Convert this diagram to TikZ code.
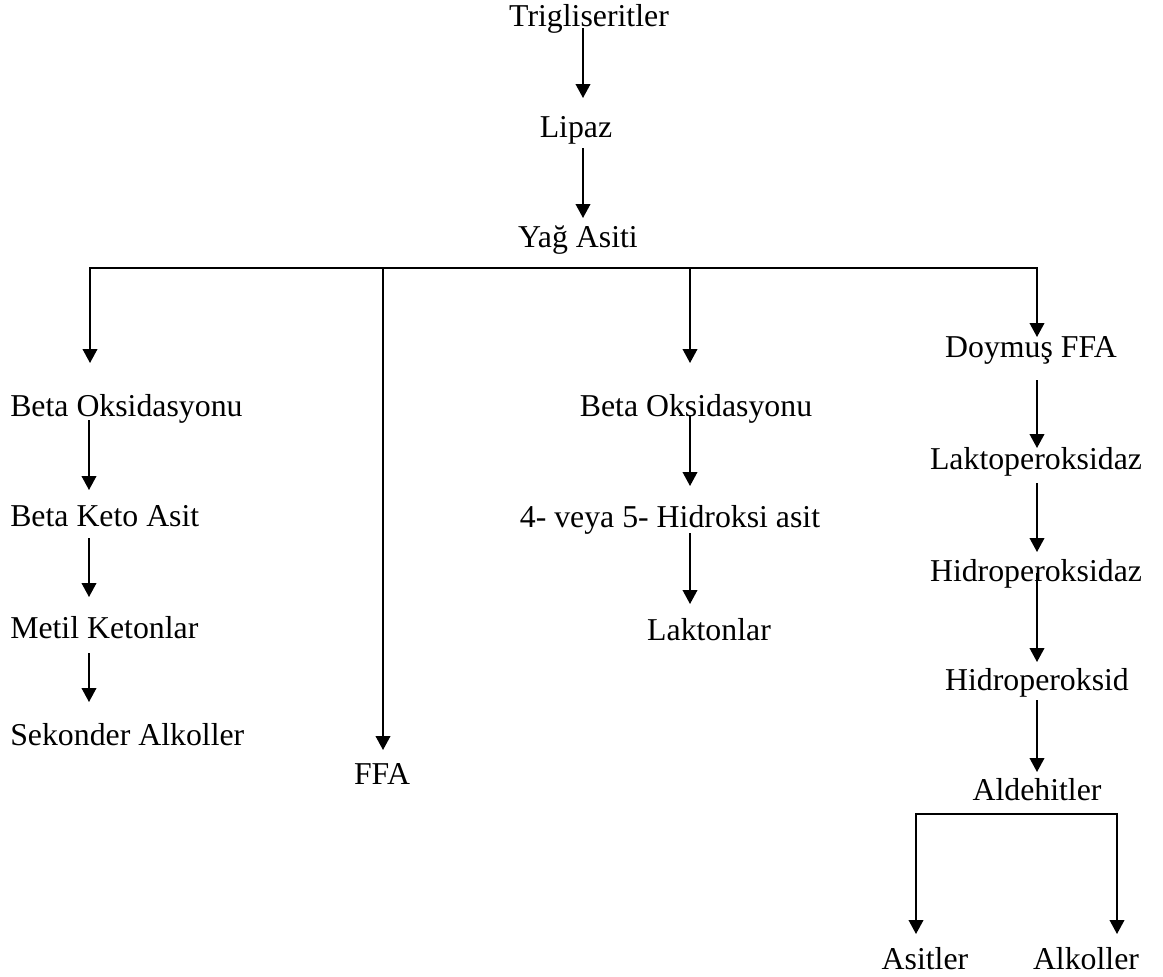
\documentclass[tikz,border=0pt]{standalone}
\usepackage{fontspec}
\setmainfont{Liberation Serif}
\usetikzlibrary{arrows.meta,calc}
\begin{document}
\begin{tikzpicture}[x=0.75pt,y=-0.75pt,
  every node/.style={font=\fontsize{23.85}{28}\selectfont, inner sep=0pt},
  lbl/.style={anchor=base},
  lblw/.style={anchor=base west},
  ln/.style={line width=1.3pt, line join=miter},
  arr/.style={ln, -{Triangle[width=11pt,length=10.5pt]}}]
\useasboundingbox (0,0) rectangle (1163,976);
% nodes
\node[lbl] (trig) at (589,26) {Trigliseritler};
\node[lbl] (lipaz) at (576,137) {Lipaz};
\node[lbl] (yag) at (578,247) {Yağ Asiti};
\node[lblw] (bo1) at (10,416) {Beta Oksidasyonu};
\node[lblw] (bk) at (10,526) {Beta Keto Asit};
\node[lblw] (mk) at (10,638) {Metil Ketonlar};
\node[lblw] (sek) at (10,745) {Sekonder Alkoller};
\node[lbl] (ffa) at (382,784) {FFA};
\node[lbl] (bo2) at (696,416) {Beta Oksidasyonu};
\node[lbl] (hy) at (670,527) {4- veya 5- Hidroksi asit};
\node[lbl] (lak) at (709,640) {Laktonlar};
\node[lbl] (doy) at (1031,357) {Doymuş FFA};
\node[lbl] (lp) at (1036,469) {Laktoperoksidaz};
\node[lbl] (hz) at (1036,581) {Hidroperoksidaz};
\node[lbl] (hd) at (1037,690) {Hidroperoksid};
\node[lbl] (ald) at (1037,800) {Aldehitler};
\node[lbl] (asit) at (925,969) {Asitler};
\node[lbl] (alk) at (1086,969) {Alkoller};
% top chain
\draw[arr] ($(trig.base)+(-6,2)$) -- ($(lipaz.base)+(7,-39)$);
\draw[arr] ($(lipaz.base)+(7,11)$) -- ($(yag.base)+(5,-29)$);
% branching bar
\coordinate (bar) at ($(yag.base)+(0,21)$);
\coordinate (t1) at ($(bo1.base west)+(80,-53)$);
\coordinate (tF) at ($(ffa.base)+(1,-34)$);
\coordinate (t3) at ($(bo2.base)+(-6,-53)$);
\coordinate (t4) at ($(doy.base)+(6,-20)$);
\draw[arr] (bar) -| (t1);
\draw[arr] (bar) -| (t4);
\draw[arr] (bar -| tF) -- (tF);
\draw[arr] (bar -| t3) -- (t3);
% left column
\draw[arr] ($(bo1.base west)+(79,4)$) -- ($(bk.base west)+(79,-36)$);
\draw[arr] ($(bk.base west)+(79,12)$) -- ($(mk.base west)+(79,-41)$);
\draw[arr] ($(mk.base west)+(79,15)$) -- ($(sek.base west)+(79,-43)$);
% middle column
\draw[arr] ($(bo2.base)+(-6,0)$) -- ($(hy.base)+(20,-41)$);
\draw[arr] ($(hy.base)+(20,6)$) -- ($(lak.base)+(-19,-36)$);
% right column
\draw[arr] ($(doy.base)+(6,23)$) -- ($(lp.base)+(1,-21)$);
\draw[arr] ($(lp.base)+(1,14)$) -- ($(hz.base)+(1,-29)$);
\draw[arr] ($(hz.base)+(1,-8)$) -- ($(hd.base)+(0,-28)$);
\draw[arr] ($(hd.base)+(0,10)$) -- ($(ald.base)+(0,-28)$);
% final split
\coordinate (bar2) at ($(ald.base)+(0,14)$);
\coordinate (tA) at ($(asit.base)+(-9,-35)$);
\coordinate (tK) at ($(alk.base)+(31,-35)$);
\draw[arr] (bar2) -| (tA);
\draw[arr] (bar2) -| (tK);
\end{tikzpicture}
\end{document}
